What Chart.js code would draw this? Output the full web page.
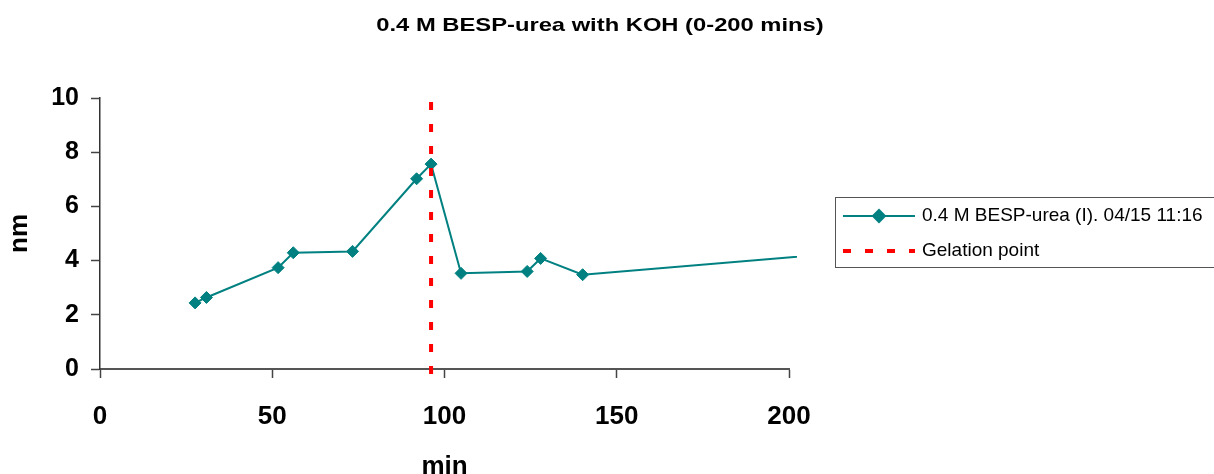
<!DOCTYPE html>
<html>
<head>
<meta charset="utf-8">
<title>0.4 M BESP-urea with KOH</title>
<script src="https://cdn.jsdelivr.net/npm/chart.js@4/dist/chart.umd.min.js"></script>
<style>
    body { margin: 0; background: #fff; }
    canvas { display: block; }
</style>
</head>
<body>
<canvas id="sizeChart" width="1214" height="474"></canvas>
<script>
// Particle size over time
const chartTitle = '0.4 M BESP-urea with KOH (0-200 mins)';
const seriesLabel = '0.4 M BESP-urea (I). 04/15 11:16';
const timeMin = [27.6, 30.9, 51.7, 56.1, 73.3, 91.9, 96.1, 104.8, 124.0, 127.9, 140.1, 240];
const sizeNm = [2.44, 2.64, 3.74, 4.29, 4.34, 7.02, 7.56, 3.53, 3.60, 4.08, 3.48, 4.55];

// Gelation marker (vertical dashed line)
const gelationLabel = 'Gelation point';
const gelationTime = 96.1;
const gelationSpan = [9.85, -0.25];

// Axis ticks
const xTicks = [0, 50, 100, 150, 200];
const yTicks = [0, 2, 4, 6, 8, 10];

const FONT = '"Liberation Sans", Arial, Helvetica, sans-serif';
const TEAL = '#008080';

// Title and boxed legend are drawn by hand so they sit where they should
const titleAndLegend = {
    id: 'titleAndLegend',
    afterDraw(chart) {
        const ctx = chart.ctx;

        ctx.save();
        ctx.font = 'bold 19px ' + FONT;
        ctx.fillStyle = '#000';
        ctx.textAlign = 'center';
        ctx.textBaseline = 'alphabetic';
        ctx.translate(600, 31);
        ctx.scale(1.25, 1);
        ctx.fillText(chartTitle, 0, 0);
        ctx.restore();

        ctx.save();
        ctx.strokeStyle = '#555';
        ctx.lineWidth = 1;
        ctx.strokeRect(835.5, 197.5, 420, 70);
        ctx.font = '19px ' + FONT;
        ctx.textAlign = 'left';
        ctx.textBaseline = 'middle';
        chart.data.datasets.forEach((ds, i) => {
            const y = 216 + i * 35;
            ctx.beginPath();
            ctx.setLineDash(ds.borderDash || []);
            ctx.lineWidth = ds.borderWidth;
            ctx.strokeStyle = ds.borderColor;
            ctx.moveTo(843, y);
            ctx.lineTo(915, y);
            ctx.stroke();
            ctx.setLineDash([]);
            if (ds.pointRadius) {
                ctx.fillStyle = ds.pointBackgroundColor;
                ctx.strokeStyle = ds.pointBorderColor;
                Chart.helpers.drawPoint(ctx, {
                    pointStyle: ds.pointStyle,
                    radius: ds.pointRadius,
                    borderWidth: ds.pointBorderWidth,
                    rotation: 0
                }, 879, y);
            }
            ctx.fillStyle = '#000';
            ctx.fillText(ds.label, 922, y);
        });
        ctx.restore();
    }
};

const ctx = document.getElementById('sizeChart').getContext('2d');
const sizeChart = new Chart(ctx, {
    type: 'line',
    data: {
        datasets: [{
            label: seriesLabel,
            data: timeMin.map((t, i) => ({ x: t, y: sizeNm[i] })),
            borderColor: TEAL,
            borderWidth: 2,
            pointStyle: 'rectRot',
            pointRadius: 6,
            pointBorderWidth: 1,
            pointBackgroundColor: TEAL,
            pointBorderColor: TEAL,
            tension: 0,
            order: 1,
            clip: { left: 5, top: 5, right: 8, bottom: 5 }
        }, {
            label: gelationLabel,
            data: gelationSpan.map(v => ({ x: gelationTime, y: v })),
            borderColor: '#ff0000',
            borderWidth: 4,
            borderDash: [8, 14],
            borderCapStyle: 'butt',
            pointRadius: 0,
            order: 0,
            clip: false
        }]
    },
    options: {
        responsive: false,
        devicePixelRatio: 1,
        animation: false,
        layout: {
            padding: { top: 98, right: 425, left: 0, bottom: 0 }
        },
        plugins: {
            legend: { display: false },
            title: { display: false },
            tooltip: { enabled: false }
        },
        scales: {
            x: {
                type: 'linear',
                min: 0,
                max: 200,
                afterFit: scale => { scale.height = 105; },
                afterBuildTicks: scale => { scale.ticks = xTicks.map(v => ({ value: v })); },
                border: { display: true, color: '#555', width: 2 },
                grid: { drawOnChartArea: false, drawTicks: true, tickLength: 9, tickColor: '#444', tickWidth: 1.5 },
                ticks: {
                    color: '#000',
                    padding: 23,
                    maxRotation: 0,
                    font: { family: FONT, size: 26, weight: 'bold' }
                },
                title: {
                    display: true,
                    text: 'min',
                    color: '#000',
                    font: { family: FONT, size: 26, weight: 'bold', lineHeight: 1 },
                    padding: { top: 0, bottom: -6 }
                }
            },
            y: {
                min: 0,
                max: 10,
                afterFit: scale => { scale.width = 100; },
                afterBuildTicks: scale => { scale.ticks = yTicks.map(v => ({ value: v })); },
                border: { display: true, color: '#333', width: 1.5 },
                grid: { drawOnChartArea: false, drawTicks: true, tickLength: 9, tickColor: '#444', tickWidth: 1.5 },
                ticks: {
                    color: '#000',
                    padding: 12,
                    font: { family: FONT, size: 25, weight: 'bold' }
                },
                title: {
                    display: true,
                    text: 'nm',
                    color: '#000',
                    font: { family: FONT, size: 26, weight: 'bold', lineHeight: 1 },
                    padding: { top: 7, bottom: 0 }
                }
            }
        }
    },
    plugins: [titleAndLegend]
});
</script>
</body>
</html>
